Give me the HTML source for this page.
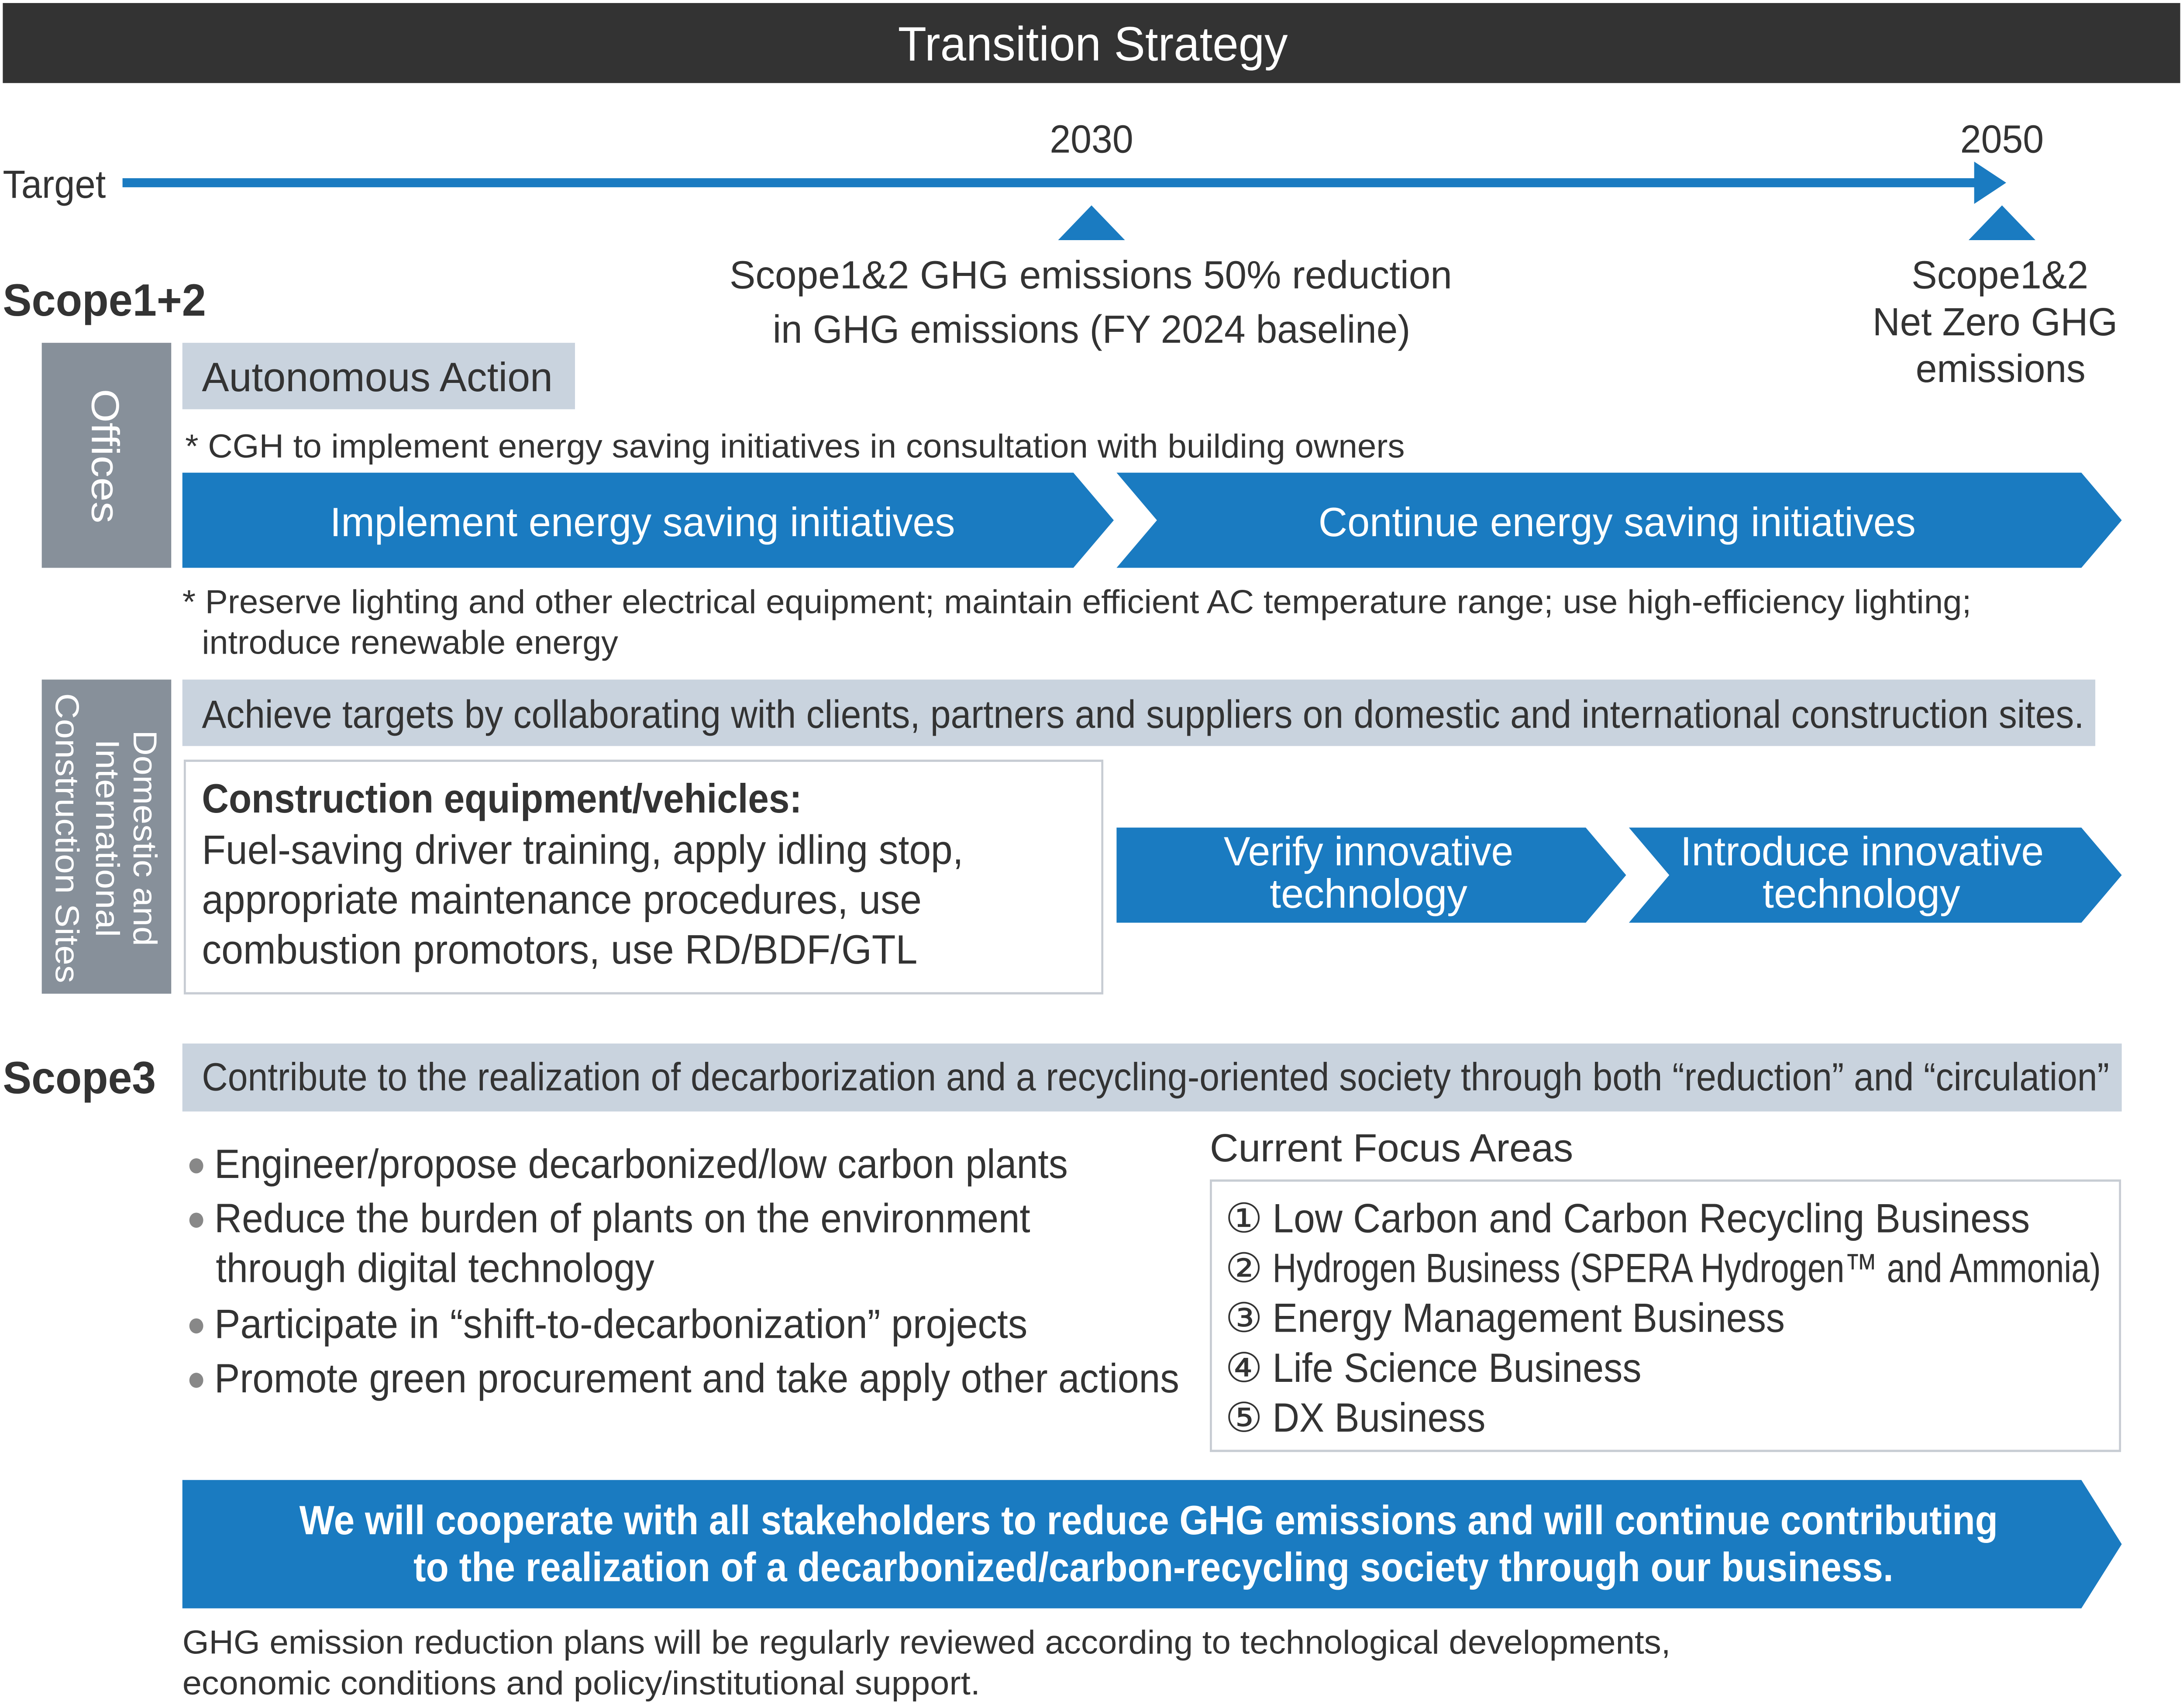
<!DOCTYPE html>
<html><head><meta charset="utf-8"><style>
html,body{margin:0;padding:0;background:#fff;overflow:hidden;width:100%;height:100%;}
svg{display:block;position:fixed;left:0;top:0;width:100vw;height:100vh;}
text{font-family:"Liberation Sans","DejaVu Sans",sans-serif;fill:#333;}
.w{fill:#fff;}
</style></head><body>
<svg viewBox="0 0 1568 1131" preserveAspectRatio="none" xmlns="http://www.w3.org/2000/svg">
<rect x="0" y="0" width="1568" height="1131" fill="#fff"/>
<rect x="2" y="2" width="1564" height="53" fill="#333"/>
<text class="w" x="645" y="40" font-size="32" textLength="280" lengthAdjust="spacingAndGlyphs">Transition Strategy</text>

<text x="2" y="131" font-size="26" textLength="74" lengthAdjust="spacingAndGlyphs">Target</text>
<rect x="88" y="118" width="1332" height="6" fill="#1a7bc1"/>
<polygon points="1418,107 1441,121 1418,135" fill="#1a7bc1"/>
<text x="754" y="101" font-size="26" textLength="60" lengthAdjust="spacingAndGlyphs">2030</text>
<text x="1408" y="101" font-size="26" textLength="60" lengthAdjust="spacingAndGlyphs">2050</text>
<polygon points="784,136 808,159 760,159" fill="#1a7bc1"/>
<polygon points="1438,136 1462,159 1414,159" fill="#1a7bc1"/>
<text x="524" y="191" font-size="26" textLength="519" lengthAdjust="spacingAndGlyphs">Scope1&amp;2 GHG emissions 50% reduction</text>
<text x="555" y="227" font-size="26" textLength="458" lengthAdjust="spacingAndGlyphs">in GHG emissions (FY 2024 baseline)</text>
<text x="1373" y="191" font-size="26" textLength="127" lengthAdjust="spacingAndGlyphs">Scope1&amp;2</text>
<text x="1345" y="222" font-size="26" textLength="176" lengthAdjust="spacingAndGlyphs">Net Zero GHG</text>
<text x="1376" y="253" font-size="26" textLength="122" lengthAdjust="spacingAndGlyphs">emissions</text>

<text x="2" y="209" font-size="30" font-weight="bold" textLength="146" lengthAdjust="spacingAndGlyphs">Scope1+2</text>
<rect x="30" y="227" width="93" height="149" fill="#87909a"/>
<text class="w" transform="translate(66,302) rotate(90)" text-anchor="middle" font-size="28" textLength="89" lengthAdjust="spacingAndGlyphs">Offices</text>
<rect x="131" y="227" width="282" height="44" fill="#c9d3de"/>
<text x="145" y="259" font-size="27" textLength="252" lengthAdjust="spacingAndGlyphs">Autonomous Action</text>
<text x="133" y="303" font-size="22" textLength="876" lengthAdjust="spacingAndGlyphs">* CGH to implement energy saving initiatives in consultation with building owners</text>
<polygon points="131,313 771,313 800,344.5 771,376 131,376" fill="#1a7bc1"/>
<polygon points="802,313 1495,313 1524,344.5 1495,376 802,376 831,344.5" fill="#1a7bc1"/>
<text class="w" x="237" y="355" font-size="27" textLength="449" lengthAdjust="spacingAndGlyphs">Implement energy saving initiatives</text>
<text class="w" x="947" y="355" font-size="27" textLength="429" lengthAdjust="spacingAndGlyphs">Continue energy saving initiatives</text>
<text x="131" y="406" font-size="22" textLength="1285" lengthAdjust="spacingAndGlyphs">* Preserve lighting and other electrical equipment; maintain efficient AC temperature range; use high-efficiency lighting;</text>
<text x="145" y="433" font-size="22" textLength="299" lengthAdjust="spacingAndGlyphs">introduce renewable energy</text>

<rect x="30" y="450" width="93" height="208" fill="#87909a"/>
<text class="w" transform="translate(96,555) rotate(90)" text-anchor="middle" font-size="24" textLength="143" lengthAdjust="spacingAndGlyphs">Domestic and</text>
<text class="w" transform="translate(69,555) rotate(90)" text-anchor="middle" font-size="24" textLength="131" lengthAdjust="spacingAndGlyphs">International</text>
<text class="w" transform="translate(40,555) rotate(90)" text-anchor="middle" font-size="24" textLength="192" lengthAdjust="spacingAndGlyphs">Construction Sites</text>
<rect x="131" y="450" width="1374" height="44" fill="#c9d3de"/>
<text x="145" y="482" font-size="26" textLength="1352" lengthAdjust="spacingAndGlyphs">Achieve targets by collaborating with clients, partners and suppliers on domestic and international construction sites.</text>
<rect x="132.75" y="503.75" width="659" height="154" fill="none" stroke="#c7ccd3" stroke-width="1.5"/>
<text x="145" y="538" font-size="27" font-weight="bold" textLength="431" lengthAdjust="spacingAndGlyphs">Construction equipment/vehicles:</text>
<text x="145" y="572" font-size="27" textLength="547" lengthAdjust="spacingAndGlyphs">Fuel-saving driver training, apply idling stop,</text>
<text x="145" y="605" font-size="27" textLength="517" lengthAdjust="spacingAndGlyphs">appropriate maintenance procedures, use</text>
<text x="145" y="638" font-size="27" textLength="514" lengthAdjust="spacingAndGlyphs">combustion promotors, use RD/BDF/GTL</text>
<polygon points="802,548 1139,548 1168,579.5 1139,611 802,611" fill="#1a7bc1"/>
<polygon points="1170,548 1495,548 1524,579.5 1495,611 1170,611 1199,579.5" fill="#1a7bc1"/>
<text class="w" x="879" y="573" font-size="27" textLength="208" lengthAdjust="spacingAndGlyphs">Verify innovative</text>
<text class="w" x="912" y="601" font-size="27" textLength="142" lengthAdjust="spacingAndGlyphs">technology</text>
<text class="w" x="1207" y="573" font-size="27" textLength="261" lengthAdjust="spacingAndGlyphs">Introduce innovative</text>
<text class="w" x="1266" y="601" font-size="27" textLength="142" lengthAdjust="spacingAndGlyphs">technology</text>

<text x="2" y="724" font-size="30" font-weight="bold" textLength="110" lengthAdjust="spacingAndGlyphs">Scope3</text>
<rect x="131" y="691" width="1393" height="45" fill="#c9d3de"/>
<text x="145" y="722" font-size="26" textLength="1370" lengthAdjust="spacingAndGlyphs">Contribute to the realization of decarborization and a recycling-oriented society through both “reduction” and “circulation”</text>
<g fill="#888"><circle cx="141" cy="772" r="5"/><circle cx="141" cy="808" r="5"/><circle cx="141" cy="878" r="5"/><circle cx="141" cy="914" r="5"/></g>
<text x="154" y="780" font-size="27" textLength="613" lengthAdjust="spacingAndGlyphs">Engineer/propose decarbonized/low carbon plants</text>
<text x="154" y="816" font-size="27" textLength="586" lengthAdjust="spacingAndGlyphs">Reduce the burden of plants on the environment</text>
<text x="155" y="849" font-size="27" textLength="315" lengthAdjust="spacingAndGlyphs">through digital technology</text>
<text x="154" y="886" font-size="27" textLength="584" lengthAdjust="spacingAndGlyphs">Participate in “shift-to-decarbonization” projects</text>
<text x="154" y="922" font-size="27" textLength="693" lengthAdjust="spacingAndGlyphs">Promote green procurement and take apply other actions</text>
<text x="869" y="769" font-size="26" textLength="261" lengthAdjust="spacingAndGlyphs">Current Focus Areas</text>
<rect x="869.75" y="781.75" width="653" height="179" fill="none" stroke="#c7ccd3" stroke-width="1.5"/>
<text x="880" y="816" font-size="27" textLength="27" lengthAdjust="spacingAndGlyphs">①</text>
<text x="880" y="849" font-size="27" textLength="27" lengthAdjust="spacingAndGlyphs">②</text>
<text x="880" y="882" font-size="27" textLength="27" lengthAdjust="spacingAndGlyphs">③</text>
<text x="880" y="915" font-size="27" textLength="27" lengthAdjust="spacingAndGlyphs">④</text>
<text x="880" y="948" font-size="27" textLength="27" lengthAdjust="spacingAndGlyphs">⑤</text>
<text x="914" y="816" font-size="27" textLength="544" lengthAdjust="spacingAndGlyphs">Low Carbon and Carbon Recycling Business</text>
<text x="914" y="849" font-size="27" textLength="595" lengthAdjust="spacingAndGlyphs">Hydrogen Business (SPERA Hydrogen™ and Ammonia)</text>
<text x="914" y="882" font-size="27" textLength="368" lengthAdjust="spacingAndGlyphs">Energy Management Business</text>
<text x="914" y="915" font-size="27" textLength="265" lengthAdjust="spacingAndGlyphs">Life Science Business</text>
<text x="914" y="948" font-size="27" textLength="153" lengthAdjust="spacingAndGlyphs">DX Business</text>

<polygon points="131,980 1495,980 1524,1022.5 1495,1065 131,1065" fill="#1a7bc1"/>
<text class="w" x="215" y="1016" font-size="27" font-weight="bold" textLength="1220" lengthAdjust="spacingAndGlyphs">We will cooperate with all stakeholders to reduce GHG emissions and will continue contributing</text>
<text class="w" x="297" y="1047" font-size="27" font-weight="bold" textLength="1063" lengthAdjust="spacingAndGlyphs">to the realization of a decarbonized/carbon-recycling society through our business.</text>
<text x="131" y="1095" font-size="22" textLength="1069" lengthAdjust="spacingAndGlyphs">GHG emission reduction plans will be regularly reviewed according to technological developments,</text>
<text x="131" y="1122" font-size="22" textLength="573" lengthAdjust="spacingAndGlyphs">economic conditions and policy/institutional support.</text>
</svg>
</body></html>
